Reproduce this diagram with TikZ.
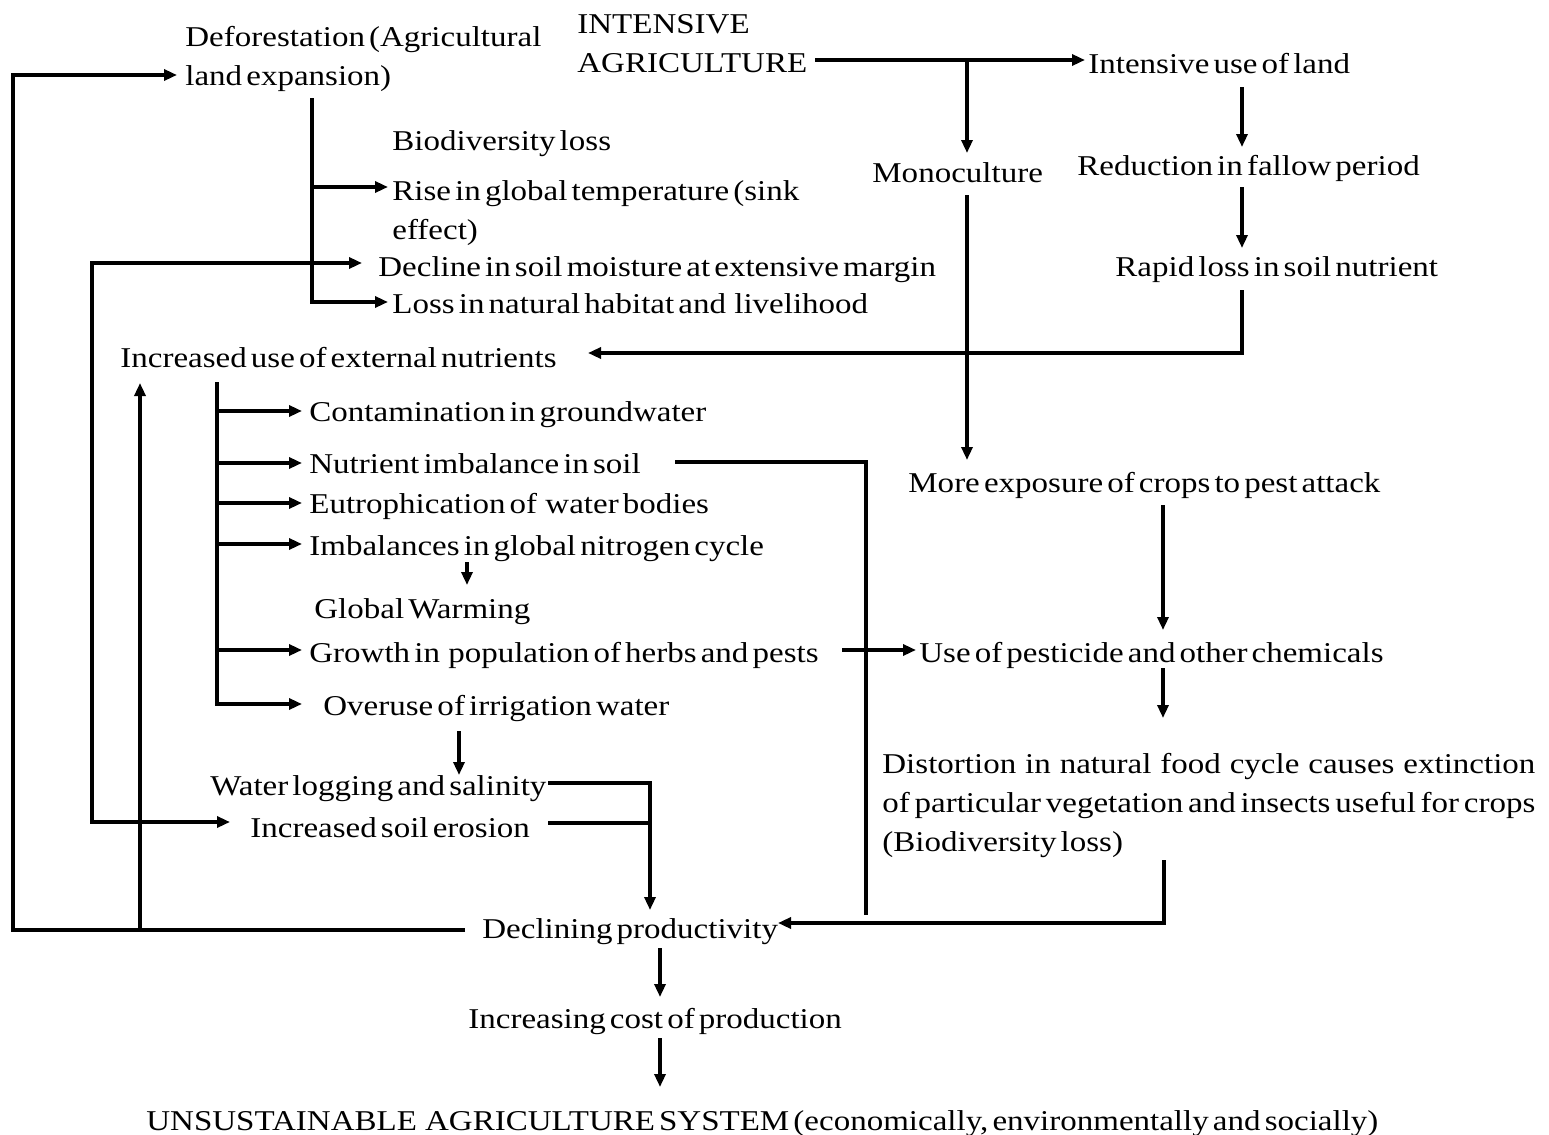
\documentclass[tikz,border=0pt]{standalone}
\usepackage{fontspec}
\setmainfont{Liberation Serif}[FakeStretch=1.15,WordSpace=0.5]
\usetikzlibrary{arrows.meta}
\begin{document}
\begin{tikzpicture}[x=0.5pt,y=-0.5pt,
  lbl/.style={anchor=base west,inner sep=0pt,align=left,font=\fontsize{14.35}{19.5}\selectfont},
  ln/.style={line width=1.6pt,line join=miter},
  arr/.style={ln,-{Triangle[length=6.5pt,width=5.5pt]}},
  darr/.style={ln,{Triangle[length=6.5pt,width=5.5pt]}-{Triangle[length=6.5pt,width=5.5pt]}},
  thickarr/.style={line width=2.4pt,-{Triangle[length=6.5pt,width=5.5pt]}}]
\useasboundingbox (0,0) rectangle (1549,1135);
% nodes (multi-line nodes are placed at the baseline of their last line)
\node[lbl] (defo) at (185,85) {Deforestation (Agricultural\\land expansion)};
\node[lbl] (intag) at (577,72) {INTENSIVE\\AGRICULTURE};
\node[lbl] (intuse) at (1088,73) {Intensive use of land};
\node[lbl] (bioloss) at (392,150) {Biodiversity loss};
\node[lbl] (rise) at (392,239) {Rise in global temperature (sink\\effect)};
\node[lbl] (mono) at (872,182) {Monoculture};
\node[lbl] (redu) at (1077,175) {Reduction in fallow period};
\node[lbl] (declsoil) at (378,276) {Decline in soil moisture at extensive margin};
\node[lbl] (rapid) at (1115,276) {Rapid loss in soil nutrient};
\node[lbl] (losshab) at (392,313) {Loss in natural habitat and\ \ livelihood};
\node[lbl] (incext) at (120,367) {Increased use of external nutrients};
\node[lbl] (contam) at (309,421) {Contamination in groundwater};
\node[lbl] (nutimb) at (309,473) {Nutrient imbalance in soil};
\node[lbl] (eutro) at (309,513) {Eutrophication of\ \ water bodies};
\node[lbl] (imbal) at (309,555) {Imbalances in global nitrogen cycle};
\node[lbl] (gw) at (314,618) {Global Warming};
\node[lbl] (growth) at (309,662) {Growth in\ \ population of herbs and pests};
\node[lbl] (overuse) at (323,715) {Overuse of irrigation water};
\node[lbl] (moreexp) at (908,492) {More exposure of crops to pest attack};
\node[lbl] (usepest) at (919,662) {Use of pesticide and other chemicals};
\node[lbl] (distort) at (882,851) {\hbox to 326.5pt{Distortion in natural food cycle causes extinction}\\\hbox to 326.5pt{of particular vegetation and insects useful for crops}\\(Biodiversity loss)};
\node[lbl] (waterlog) at (210,795) {Water logging and salinity};
\node[lbl] (incero) at (250,837) {Increased soil erosion};
\node[lbl] (declprod) at (482,938) {Declining productivity};
\node[lbl] (inccost) at (468,1028) {Increasing cost of production};
\node[lbl] (unsust) at (146,1130) {UNSUSTAINABLE\ \ AGRICULTURE SYSTEM (economically, environmentally and socially)};
% coordinates
\coordinate (pA) at (465,930);
\coordinate (cA1) at (13,930);
\coordinate (cA2) at (13,75);
\coordinate (tA) at (177,75);
\coordinate (jB) at (140,930);
\coordinate (tB) at (140,383);
\coordinate (tC1) at (362,263);
\coordinate (cC1) at (92,263);
\coordinate (cC2) at (92,822);
\coordinate (tC2) at (230,822);
\coordinate (sD) at (312,98);
\coordinate (cD) at (312,302);
\coordinate (jD) at (312,187);
\coordinate (sE) at (815,60);
\coordinate (tE) at (1085,60);
\coordinate (jE) at (967,60);
\coordinate (tE2) at (967,153);
% drawing
\draw[arr] (pA) -- (cA1) -- (cA2) -- (tA);
\draw[arr] (jB) -- (tB);
\draw[darr] (tC1) -- (cC1) -- (cC2) -- (tC2);
\draw[arr] (sD) -- (cD) -- (388,302);
\draw[arr] (jD) -- (388,187);
\draw[thickarr] (sE) -- (tE);
\draw[arr] (jE) -- (tE2);
\draw[arr] (1242,87) -- (1242,147);
\draw[arr] (1242,187) -- (1242,248);
\draw[arr] (1242,290) -- (1242,353) -- (588,353);
\draw[arr] (967,195) -- (967,460);
\draw[arr] (217,382) -- (217,704) -- (302,704);
\foreach \yy in {411,463,503,544,650} \draw[arr] (217,\yy) -- (302,\yy);
\draw[arr] (467,562) -- (467,585);
\draw[ln] (675,462) -- (866,462) -- (866,915);
\draw[arr] (842,650) -- (916,650);
\draw[arr] (1163,505) -- (1163,630);
\draw[arr] (1163,668) -- (1163,718);
\draw[arr] (1164,860) -- (1164,923) -- (778,923);
\draw[arr] (459,731) -- (459,775);
\draw[arr] (548,783) -- (650,783) -- (650,910);
\draw[ln] (548,823) -- (650,823);
\draw[arr] (660,948) -- (660,997);
\draw[arr] (660,1038) -- (660,1087);
\end{tikzpicture}
\end{document}
